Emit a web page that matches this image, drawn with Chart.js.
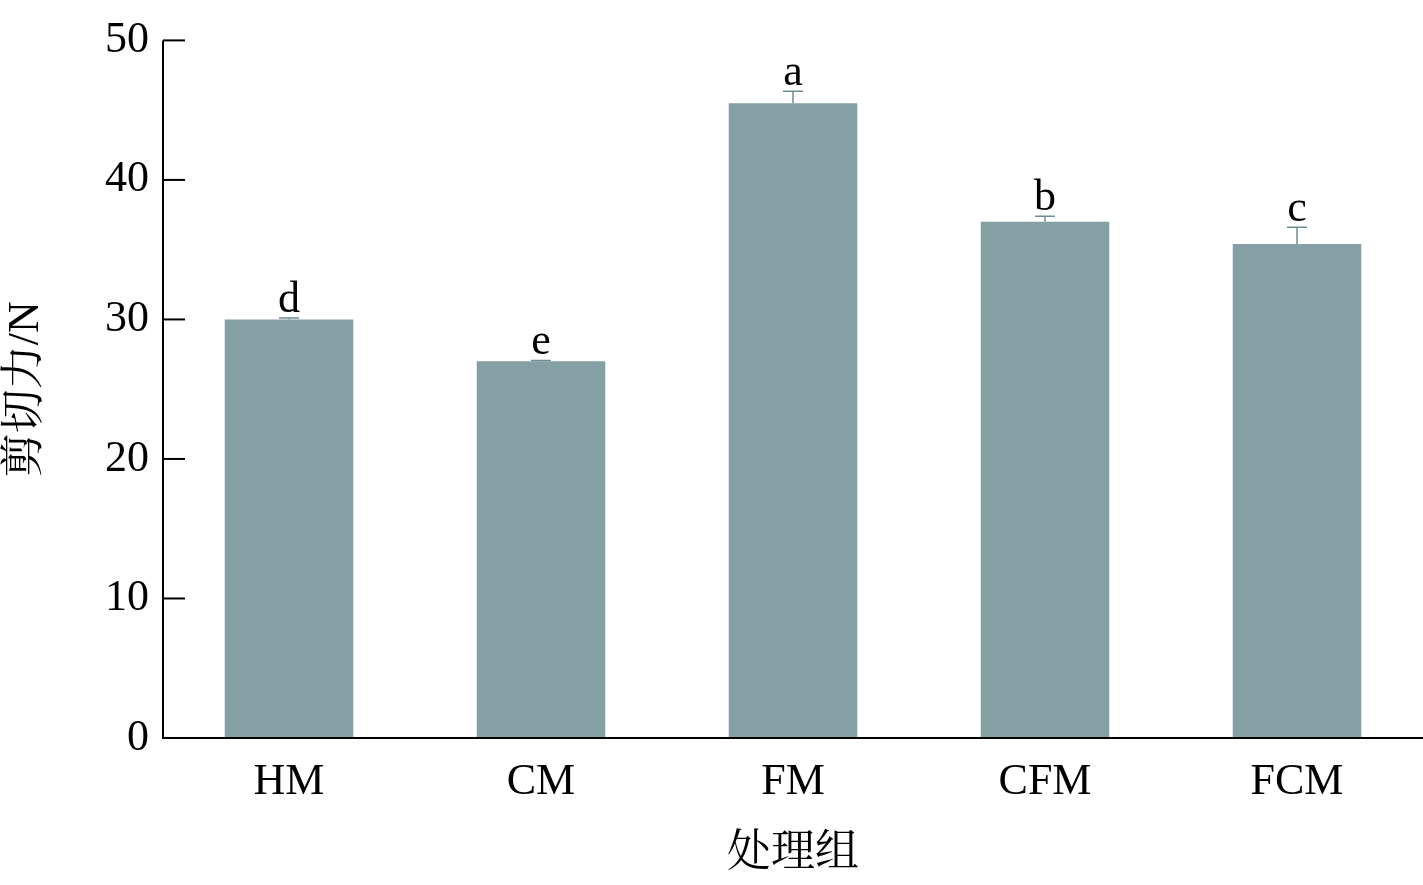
<!DOCTYPE html>
<html>
<head>
<meta charset="utf-8">
<script src="https://cdn.jsdelivr.net/npm/chart.js@4/dist/chart.umd.min.js"></script>
<style>
  html, body { margin: 0; padding: 0; background: #fff; }
  #wrap { width: 1423px; height: 885px; }
</style>
</head>
<body>
<div id="wrap"><canvas id="grafico"></canvas></div>
<script>
const grupos = ["HM", "CM", "FM", "CFM", "FCM"];
const valores = [30.0, 27.0, 45.5, 37.0, 35.4];
const errores = [0.1, 0.05, 0.85, 0.4, 1.2];
const letras = ["d", "e", "a", "b", "c"];
const ticksY = [0, 10, 20, 30, 40, 50];

const serif = '"Liberation Serif", "Noto Serif CJK SC", "Noto Sans CJK SC", serif';

// Ejes, marcas, barras de error y letras
const extras = {
  id: "extras",
  afterDatasetsDraw(chart) {
    const { ctx, chartArea: a, scales: { x, y } } = chart;
    ctx.save();
    ctx.strokeStyle = "#000";
    ctx.lineWidth = 2;
    ctx.beginPath();
    ctx.moveTo(a.left, a.top);
    ctx.lineTo(a.left, a.bottom);
    ctx.lineTo(a.right, a.bottom);
    ctx.stroke();
    ticksY.forEach(t => {
      const py = y.getPixelForValue(t);
      ctx.beginPath();
      ctx.moveTo(a.left, py);
      ctx.lineTo(a.left + 22, py);
      ctx.stroke();
    });
    const meta = chart.getDatasetMeta(0);
    ctx.font = "44px " + serif;
    ctx.fillStyle = "#000";
    ctx.textAlign = "center";
    ctx.textBaseline = "bottom";
    meta.data.forEach((bar, i) => {
      const top = y.getPixelForValue(valores[i] + errores[i]);
      const base = y.getPixelForValue(valores[i]);
      ctx.strokeStyle = "#6f8c92";
      ctx.lineWidth = 1.5;
      ctx.beginPath();
      ctx.moveTo(bar.x, base);
      ctx.lineTo(bar.x, top);
      ctx.moveTo(bar.x - 10, top);
      ctx.lineTo(bar.x + 10, top);
      ctx.stroke();
      ctx.fillText(letras[i], bar.x, top + 4);
    });
    ctx.restore();
  }
};

new Chart(document.getElementById("grafico").getContext("2d"), {
  type: "bar",
  data: {
    labels: grupos,
    datasets: [{
      data: valores,
      backgroundColor: "#84a0a5",
      barPercentage: 0.51,
      categoryPercentage: 1.0
    }]
  },
  options: {
    responsive: true,
    maintainAspectRatio: false,
    animation: false,
    layout: { padding: { top: 25, right: 0, left: 0, bottom: 0 } },
    plugins: { legend: { display: false }, tooltip: { enabled: false } },
    scales: {
      x: {
        grid: { display: false, drawTicks: false },
        border: { display: false },
        ticks: { color: "#000", font: { family: serif, size: 44 }, padding: 18 },
        title: { display: true, text: "处理组", color: "#000", font: { family: serif, size: 44 }, padding: { top: 4 } },
        afterFit(s) { s.height = 147; }
      },
      y: {
        min: 0, max: 50,
        afterBuildTicks(s) { s.ticks = ticksY.map(v => ({ value: v })); },
        grid: { display: false, drawTicks: false },
        border: { display: false },
        ticks: { color: "#000", font: { family: serif, size: 44 }, padding: 14 },
        title: { display: true, text: "剪切力/N", color: "#000", font: { family: serif, size: 44 }, padding: 0 },
        afterFit(s) { s.width = 163; }
      }
    }
  },
  plugins: [extras]
});
</script>
</body>
</html>
